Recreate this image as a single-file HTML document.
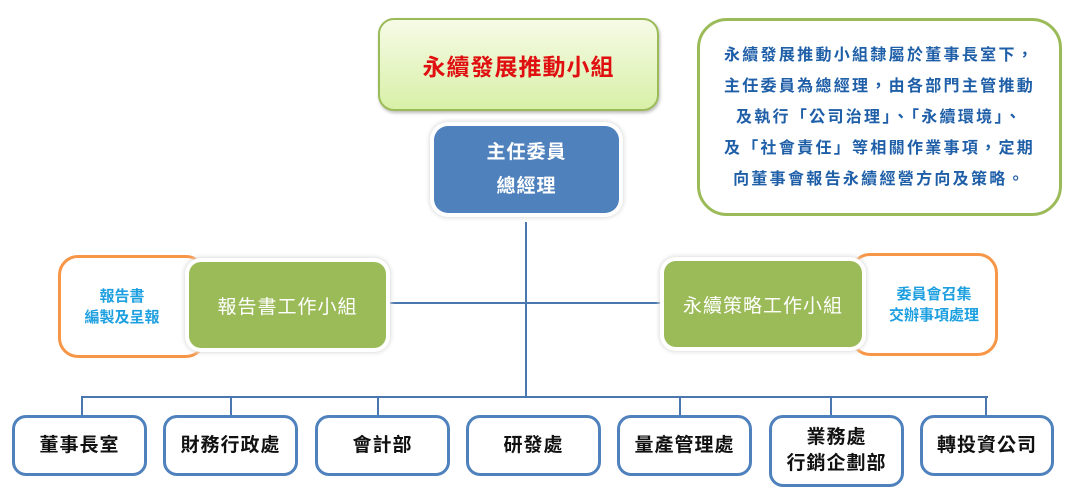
<!DOCTYPE html>
<html><head><meta charset="utf-8"><style>
body{margin:0;width:1078px;height:502px;background:#fff;position:relative;overflow:hidden;font-family:"Liberation Sans","Noto Sans CJK TC",sans-serif}
.a{position:absolute;box-sizing:border-box;display:flex;align-items:center;justify-content:center;text-align:center}
.line{position:absolute;background:#4a77b0}
.b{border:3px solid #4f81bd;border-radius:14px;color:#111;font-size:19px;top:415px;height:61px;background:#fff;line-height:26px;font-weight:bold;letter-spacing:1px}
.g{background:#9bbb59;color:#fff;font-size:19px;border-radius:12px;box-shadow:0 0 0 4px #fff,0 0 4px 5px #ddd;letter-spacing:1px}
.o{border:3px solid #f79646;border-radius:20px;color:#1ea0e0;font-size:15px;line-height:21px;background:#fff;font-weight:bold}
</style></head><body>
<div class="line" style="left:525px;top:222px;width:2px;height:176px"></div>
<div class="line" style="left:385px;top:302px;width:280px;height:2px"></div>
<div class="line" style="left:82px;top:396px;width:906px;height:2px"></div>
<div class="line" style="left:81px;top:396px;width:2px;height:20px"></div>
<div class="line" style="left:230px;top:396px;width:2px;height:20px"></div>
<div class="line" style="left:377px;top:396px;width:2px;height:20px"></div>
<div class="line" style="left:679px;top:396px;width:2px;height:20px"></div>
<div class="line" style="left:830px;top:396px;width:2px;height:20px"></div>
<div class="line" style="left:985px;top:396px;width:2px;height:20px"></div>

<div class="a" style="left:378px;top:18px;width:281px;height:93px;border:2px solid #9bbb59;border-radius:16px;background:linear-gradient(#f6fbe6,#d8f0a8);color:#e01010;font-size:23px;font-weight:bold;letter-spacing:1px;box-shadow:1px 2px 3px #bbb">永續發展推動小組</div>
<div class="a" style="left:434px;top:126px;width:185px;height:87px;background:#4f81bd;border-radius:14px;color:#fff;font-size:19px;line-height:34px;font-weight:bold;letter-spacing:1px;box-shadow:0 0 0 4px #fff,0 0 4px 5px #ddd">主任委員<br>總經理</div>
<div class="a" style="left:697px;top:18px;width:365px;height:198px;border:3px solid #9bbb59;border-radius:30px;color:#1f5fa8;font-size:16px;letter-spacing:2.3px;font-weight:bold;line-height:31px;background:#fff">永續發展推動小組隸屬於董事長室下，<br>主任委員為總經理，由各部門主管推動<br>及執行「公司治理」、「永續環境」、<br>及「社會責任」等相關作業事項，定期<br>向董事會報告永續經營方向及策略。</div>

<div class="a o" style="left:58px;top:255px;width:148px;height:103px;padding-right:20px">報告書<br>編製及呈報</div>
<div class="a g" style="left:189px;top:262px;width:197px;height:86px">報告書工作小組</div>
<div class="a o" style="left:850px;top:253px;width:148px;height:103px;padding-left:20px">委員會召集<br>交辦事項處理</div>
<div class="a g" style="left:664px;top:261px;width:198px;height:86px">永續策略工作小組</div>

<div class="a b" style="left:12px;width:135px">董事長室</div>
<div class="a b" style="left:163px;width:135px">財務行政處</div>
<div class="a b" style="left:315px;width:135px">會計部</div>
<div class="a b" style="left:466px;width:135px">研發處</div>
<div class="a b" style="left:617px;width:135px">量產管理處</div>
<div class="a b" style="left:769px;width:135px;height:72px">業務處<br>行銷企劃部</div>
<div class="a b" style="left:920px;width:134px">轉投資公司</div>
</body></html>
